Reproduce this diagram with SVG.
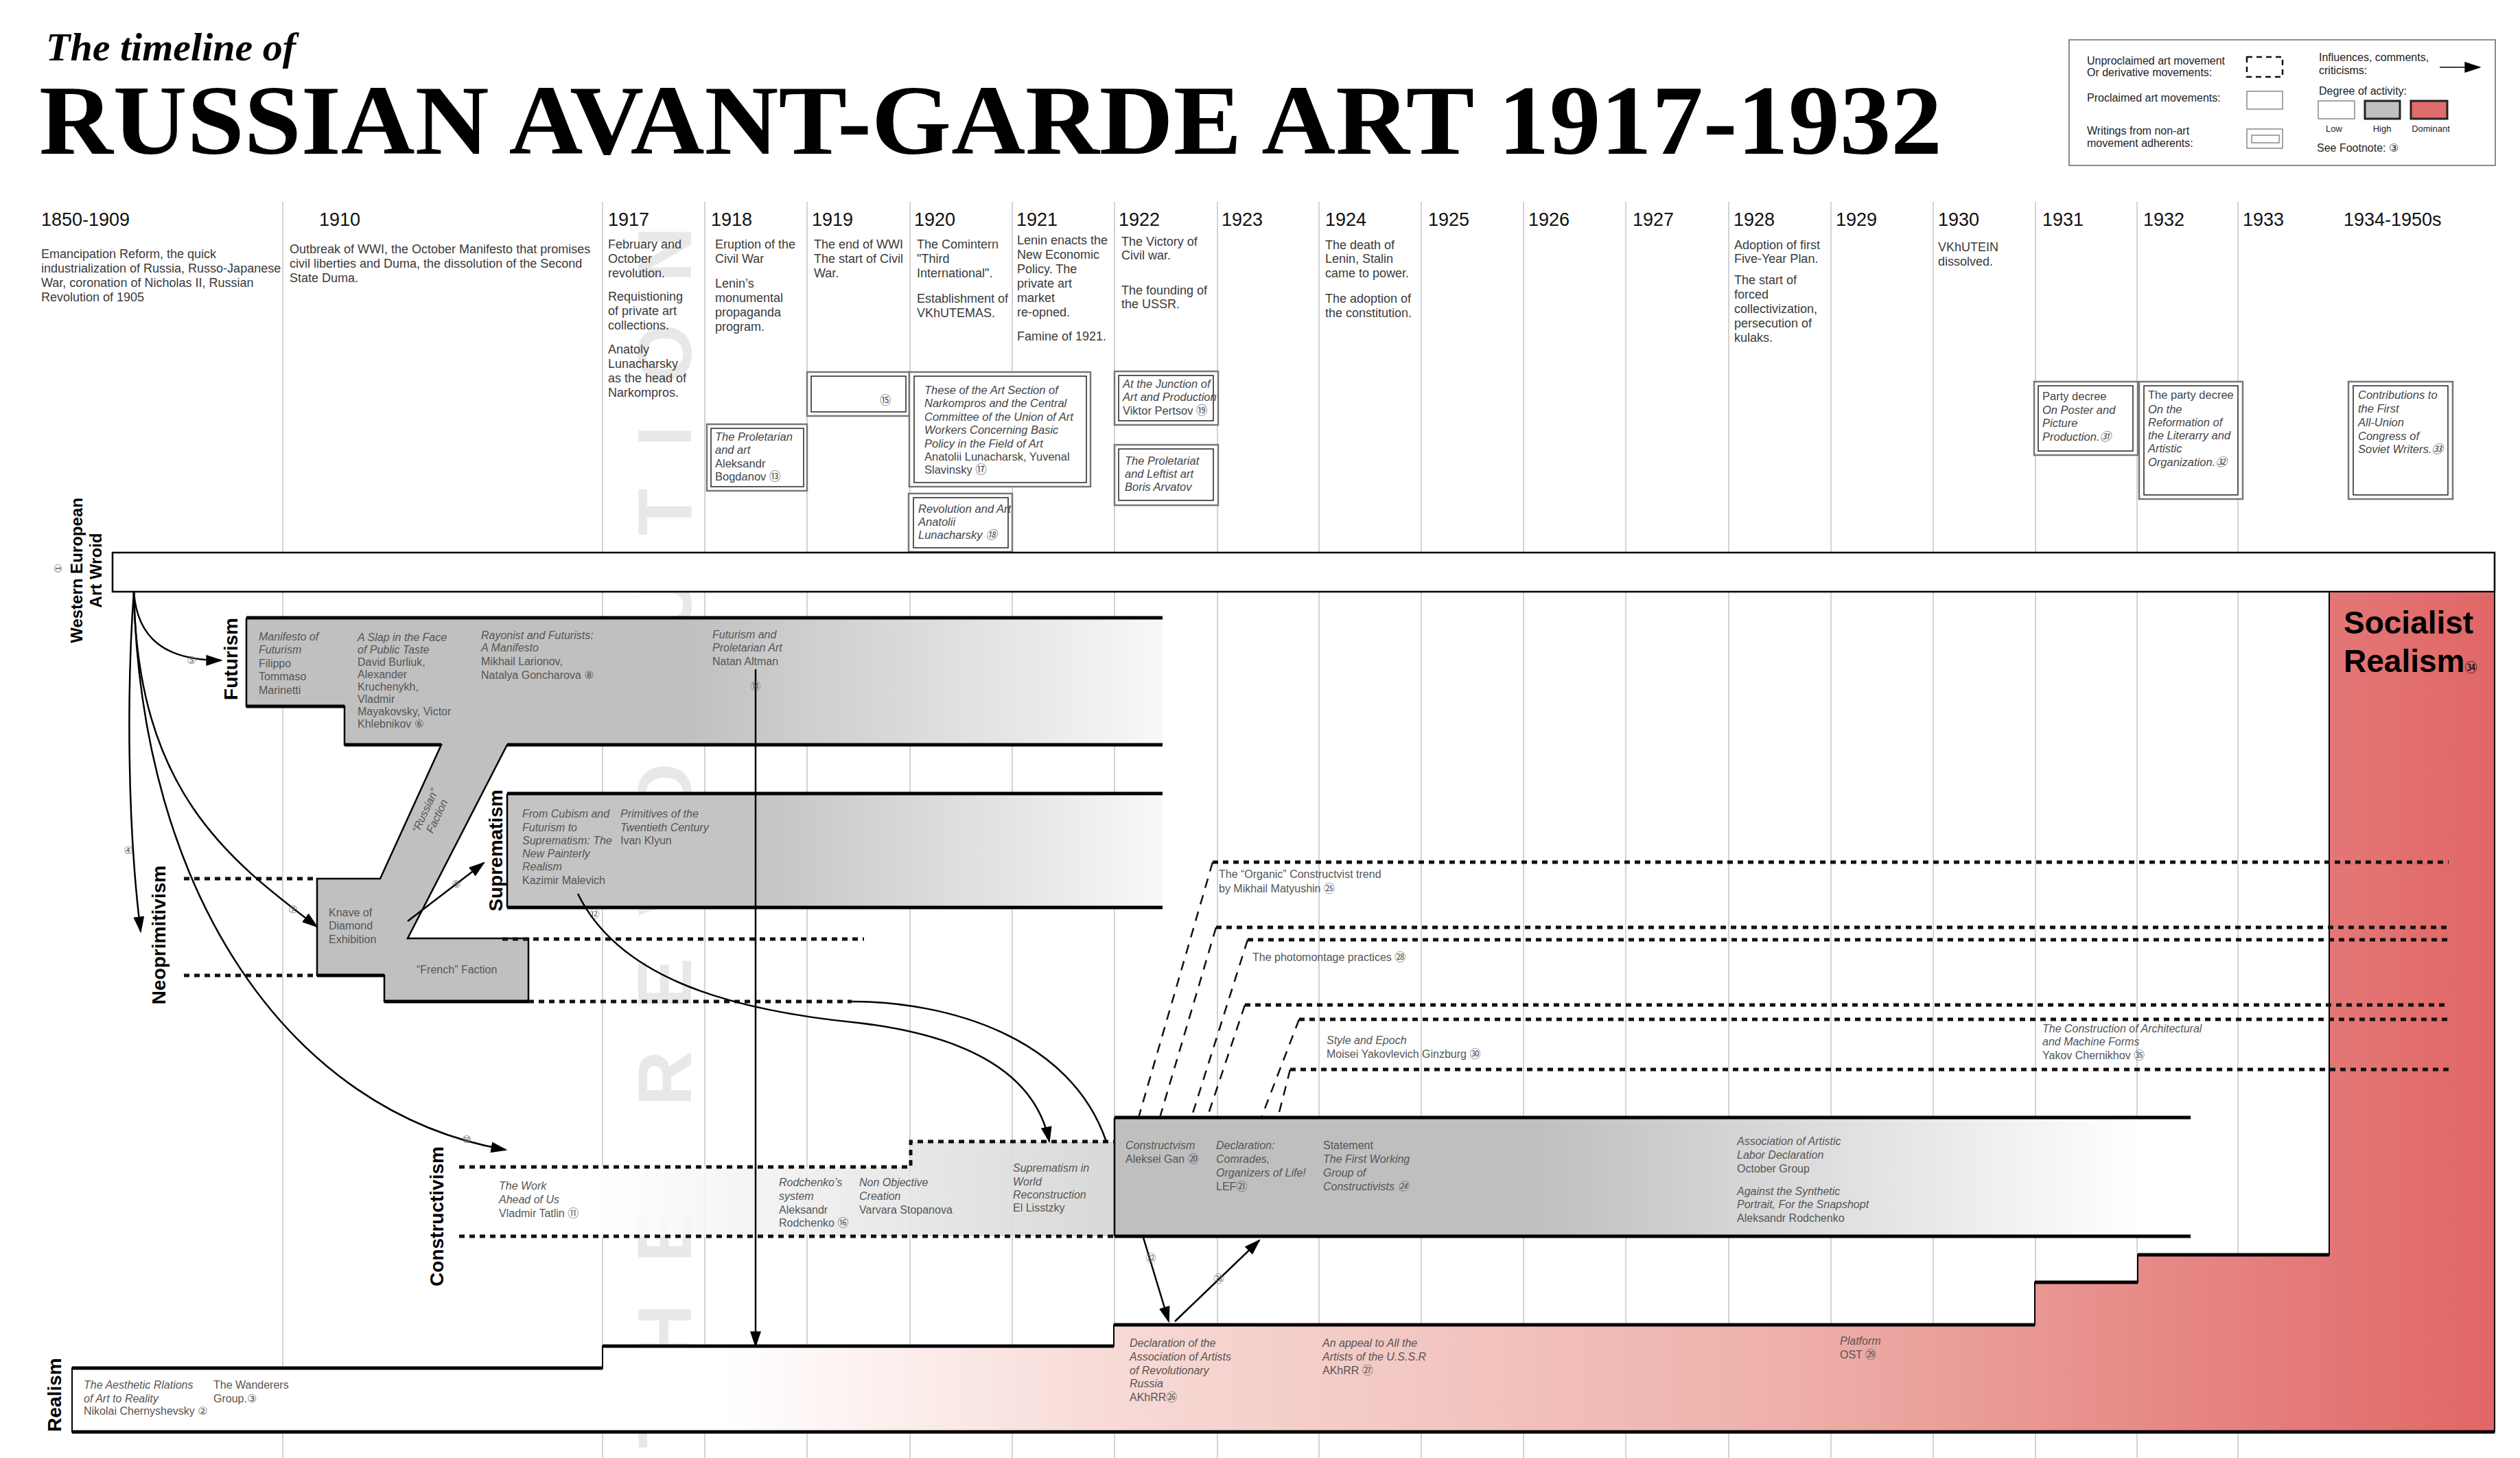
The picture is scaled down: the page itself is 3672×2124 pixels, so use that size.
<svg xmlns="http://www.w3.org/2000/svg" width="3672" height="2124" viewBox="0 0 3672 2124">
<style>
text{font-family:"Liberation Sans","DejaVu Sans","Noto Sans CJK JP",sans-serif}
.yr{font-size:27px;fill:#111}
.ds{font-size:18px;fill:#3a3a3a}
.bx{font-size:16.5px;fill:#444}
.tx{font-size:16px;fill:#555}
.lg{font-size:16px;fill:#222}
.lbl{font-size:28px;font-weight:bold;fill:#000}
.it{font-style:italic}
.grid{stroke:#c4c4c4;stroke-width:1.5}
.out{fill:#fff;stroke:#777;stroke-width:2.5}
.inn{fill:none;stroke:#222;stroke-width:1.5}
.dot{fill:none;stroke:#111;stroke-width:5;stroke-dasharray:8 7}
.dash{fill:none;stroke:#111;stroke-width:2.5;stroke-dasharray:14 11}
.edge{fill:none;stroke:#000;stroke-width:2.5}
.thick{fill:none;stroke:#000;stroke-width:5}
.con{fill:none;stroke:#000;stroke-width:2.5}
.num{font-size:15px;fill:#666}
</style>
<defs>
<marker id="arr" viewBox="0 0 10 10" refX="9" refY="5" markerWidth="24" markerHeight="16" markerUnits="userSpaceOnUse" orient="auto" preserveAspectRatio="none"><path d="M0,0 L10,5 L0,10 z" fill="#000"/></marker>
<linearGradient id="gFut" gradientUnits="userSpaceOnUse" x1="1000" y1="0" x2="1694" y2="0"><stop offset="0" stop-color="#c0c0c0"/><stop offset="1" stop-color="#f8f8f8"/></linearGradient>
<linearGradient id="gSup" gradientUnits="userSpaceOnUse" x1="1101" y1="0" x2="1694" y2="0"><stop offset="0" stop-color="#c4c4c4"/><stop offset="1" stop-color="#f8f8f8"/></linearGradient>
<linearGradient id="gCon" gradientUnits="userSpaceOnUse" x1="2230" y1="0" x2="3120" y2="0"><stop offset="0" stop-color="#bfbfbf"/><stop offset="1" stop-color="#ffffff"/></linearGradient>
<linearGradient id="gConU" gradientUnits="userSpaceOnUse" x1="880" y1="0" x2="1625" y2="0"><stop offset="0" stop-color="#ffffff"/><stop offset="1" stop-color="#d4d4d4"/></linearGradient>
<linearGradient id="gReal" gradientUnits="userSpaceOnUse" x1="1050" y1="0" x2="3635" y2="0"><stop offset="0" stop-color="#ffffff"/><stop offset="0.22" stop-color="#f7dad6"/><stop offset="0.6" stop-color="#eeb0aa"/><stop offset="1" stop-color="#e06666"/></linearGradient>
</defs>

<rect width="3672" height="2124" fill="#fff"/>

<!-- watermark -->
<text transform="translate(1007,2110) rotate(-90)" font-size="112" font-weight="bold" fill="#e8e8e8" textLength="1780" lengthAdjust="spacing">THE REVOLUTION</text>

<!-- grid -->
<g id="grid">
<line class="grid" x1="412" y1="294" x2="412" y2="2124"/>
<line class="grid" x1="878" y1="294" x2="878" y2="2124"/>
<line class="grid" x1="1027" y1="294" x2="1027" y2="2124"/>
<line class="grid" x1="1176" y1="294" x2="1176" y2="2124"/>
<line class="grid" x1="1326" y1="294" x2="1326" y2="2124"/>
<line class="grid" x1="1475" y1="294" x2="1475" y2="2124"/>
<line class="grid" x1="1624" y1="294" x2="1624" y2="2124"/>
<line class="grid" x1="1774" y1="294" x2="1774" y2="2124"/>
<line class="grid" x1="1922" y1="294" x2="1922" y2="2124"/>
<line class="grid" x1="2071" y1="294" x2="2071" y2="2124"/>
<line class="grid" x1="2220" y1="294" x2="2220" y2="2124"/>
<line class="grid" x1="2369" y1="294" x2="2369" y2="2124"/>
<line class="grid" x1="2519" y1="294" x2="2519" y2="2124"/>
<line class="grid" x1="2668" y1="294" x2="2668" y2="2124"/>
<line class="grid" x1="2817" y1="294" x2="2817" y2="2124"/>
<line class="grid" x1="2966" y1="294" x2="2966" y2="2124"/>
<line class="grid" x1="3114" y1="294" x2="3114" y2="2124"/>
<line class="grid" x1="3261" y1="294" x2="3261" y2="2124"/>
</g>

<!-- title -->
<g id="title">
<text x="67" y="88" font-family="Liberation Serif" font-size="58" font-style="italic" font-weight="bold" fill="#000" style="font-family:'Liberation Serif',serif">The timeline of</text>
<text x="57" y="224" font-size="145" font-weight="bold" fill="#000" textLength="2773" lengthAdjust="spacingAndGlyphs" style="font-family:'Liberation Serif',serif">RUSSIAN AVANT-GARDE ART 1917-1932</text>
</g>

<!-- legend -->
<g id="legend">
<rect x="3015" y="58" width="621" height="183" fill="#fff" stroke="#666" stroke-width="1.5"/>
<text class="lg" x="3041" y="94">Unproclaimed art movement</text>
<text class="lg" x="3041" y="111">Or derivative movements:</text>
<rect x="3274" y="83" width="52" height="29" fill="none" stroke="#111" stroke-width="2.5" stroke-dasharray="8 6"/>
<text class="lg" x="3041" y="148">Proclaimed art movements:</text>
<rect x="3274" y="133" width="52" height="26" fill="none" stroke="#888" stroke-width="1.5"/>
<text class="lg" x="3041" y="196">Writings from non-art</text>
<text class="lg" x="3041" y="214">movement adherents:</text>
<rect x="3274" y="188" width="52" height="28" fill="none" stroke="#888" stroke-width="1.5"/>
<rect x="3281" y="197" width="40" height="11" fill="none" stroke="#888" stroke-width="1.5"/>
<text class="lg" x="3379" y="89">Influences, comments,</text>
<text class="lg" x="3379" y="108">criticisms:</text>
<line x1="3555" y1="98" x2="3613" y2="98" stroke="#000" stroke-width="1.5" marker-end="url(#arr)"/>
<text class="lg" x="3379" y="138">Degree of activity:</text>
<rect x="3378" y="147" width="53" height="26" fill="#fff" stroke="#888" stroke-width="1.5"/>
<rect x="3446" y="147" width="51" height="26" fill="#c0c0c0" stroke="#222" stroke-width="3"/>
<rect x="3513" y="147" width="53" height="26" fill="#e06c6c" stroke="#222" stroke-width="3"/>
<text class="lg" x="3401" y="192" font-size="13" text-anchor="middle" style="font-size:13px">Low</text>
<text class="lg" x="3471" y="192" text-anchor="middle" style="font-size:13px">High</text>
<text class="lg" x="3542" y="192" text-anchor="middle" style="font-size:13px">Dominant</text>
<text class="lg" x="3376" y="221">See Footnote: ③</text>
</g>

<!-- years -->
<g id="years">
<text class="yr" x="60" y="329">1850-1909</text>
<text class="yr" x="465" y="329">1910</text>
<text class="yr" x="886" y="329">1917</text>
<text class="yr" x="1036" y="329">1918</text>
<text class="yr" x="1183" y="329">1919</text>
<text class="yr" x="1332" y="329">1920</text>
<text class="yr" x="1481" y="329">1921</text>
<text class="yr" x="1630" y="329">1922</text>
<text class="yr" x="1780" y="329">1923</text>
<text class="yr" x="1931" y="329">1924</text>
<text class="yr" x="2081" y="329">1925</text>
<text class="yr" x="2227" y="329">1926</text>
<text class="yr" x="2379" y="329">1927</text>
<text class="yr" x="2526" y="329">1928</text>
<text class="yr" x="2675" y="329">1929</text>
<text class="yr" x="2824" y="329">1930</text>
<text class="yr" x="2976" y="329">1931</text>
<text class="yr" x="3123" y="329">1932</text>
<text class="yr" x="3268" y="329">1933</text>
<text class="yr" x="3415" y="329">1934-1950s</text>
</g>

<!-- events -->
<g id="events">
<text class="ds"><tspan x="60" y="376">Emancipation Reform, the quick</tspan><tspan x="60" y="397">industrialization of Russia, Russo-Japanese</tspan><tspan x="60" y="418">War, coronation of Nicholas II, Russian</tspan><tspan x="60" y="439">Revolution of 1905</tspan></text>
<text class="ds"><tspan x="422" y="369">Outbreak of WWI, the October Manifesto that promises</tspan><tspan x="422" y="390">civil liberties and Duma, the dissolution of the Second</tspan><tspan x="422" y="411">State Duma.</tspan></text>
<text class="ds"><tspan x="886" y="362">February and</tspan><tspan x="886" y="383">October</tspan><tspan x="886" y="404">revolution.</tspan><tspan x="886" y="438">Requistioning</tspan><tspan x="886" y="459">of private art</tspan><tspan x="886" y="480">collections.</tspan><tspan x="886" y="515">Anatoly</tspan><tspan x="886" y="536">Lunacharsky</tspan><tspan x="886" y="557">as the head of</tspan><tspan x="886" y="578">Narkompros.</tspan></text>
<text class="ds"><tspan x="1042" y="362">Eruption of the</tspan><tspan x="1042" y="383">Civil War</tspan><tspan x="1042" y="419">Lenin’s</tspan><tspan x="1042" y="440">monumental</tspan><tspan x="1042" y="461">propaganda</tspan><tspan x="1042" y="482">program.</tspan></text>
<text class="ds"><tspan x="1186" y="362">The end of WWI</tspan><tspan x="1186" y="383">The start of Civil</tspan><tspan x="1186" y="404">War.</tspan></text>
<text class="ds"><tspan x="1336" y="362">The Comintern</tspan><tspan x="1336" y="383">"Third</tspan><tspan x="1336" y="404">International".</tspan><tspan x="1336" y="441">Establishment of</tspan><tspan x="1336" y="462">VKhUTEMAS.</tspan></text>
<text class="ds"><tspan x="1482" y="356">Lenin enacts the</tspan><tspan x="1482" y="377">New Economic</tspan><tspan x="1482" y="398">Policy. The</tspan><tspan x="1482" y="419">private art</tspan><tspan x="1482" y="440">market</tspan><tspan x="1482" y="461">re-opned.</tspan><tspan x="1482" y="496">Famine of 1921.</tspan></text>
<text class="ds"><tspan x="1634" y="358">The Victory of</tspan><tspan x="1634" y="378">Civil war.</tspan><tspan x="1634" y="429">The founding of</tspan><tspan x="1634" y="449">the USSR.</tspan></text>
<text class="ds"><tspan x="1931" y="363">The death of</tspan><tspan x="1931" y="383">Lenin, Stalin</tspan><tspan x="1931" y="404">came to power.</tspan><tspan x="1931" y="441">The adoption of</tspan><tspan x="1931" y="462">the constitution.</tspan></text>
<text class="ds"><tspan x="2527" y="363">Adoption of first</tspan><tspan x="2527" y="383">Five-Year Plan.</tspan><tspan x="2527" y="414">The start of</tspan><tspan x="2527" y="435">forced</tspan><tspan x="2527" y="456">collectivization,</tspan><tspan x="2527" y="477">persecution of</tspan><tspan x="2527" y="498">kulaks.</tspan></text>
<text class="ds"><tspan x="2824" y="366">VKhUTEIN</tspan><tspan x="2824" y="387">dissolved.</tspan></text>
</g>

<!-- writings -->
<g id="doc-bogdanov">
<rect class="out" x="1030" y="618" width="146" height="97"/><rect class="inn" x="1036" y="624" width="135" height="85"/>
<text class="bx"><tspan class="it" x="1042" y="642">The Proletarian</tspan><tspan class="it" x="1042" y="661">and art</tspan><tspan x="1042" y="681">Aleksandr</tspan><tspan x="1042" y="700">Bogdanov ⑬</tspan></text>
</g>
<g id="doc-15">
<rect class="out" x="1176" y="542" width="149" height="64"/><rect class="inn" x="1182" y="548" width="138" height="52"/>
<text class="bx" x="1282" y="589">⑮</text>
</g>
<g id="doc-theses">
<rect class="out" x="1325" y="542" width="264" height="167"/><rect class="inn" x="1332" y="548" width="251" height="155"/>
<text class="bx"><tspan class="it" x="1347" y="574">These of the Art Section of</tspan><tspan class="it" x="1347" y="593">Narkompros and the Central</tspan><tspan class="it" x="1347" y="613">Committee of the Union of Art</tspan><tspan class="it" x="1347" y="632">Workers Concerning Basic</tspan><tspan class="it" x="1347" y="652">Policy in the Field of Art</tspan><tspan x="1347" y="671">Anatolii Lunacharsk, Yuvenal</tspan><tspan x="1347" y="690">Slavinsky ⑰</tspan></text>
</g>
<g id="doc-revolution-art">
<rect class="out" x="1324" y="719" width="151" height="85"/><rect class="inn" x="1331" y="725" width="138" height="73"/>
<text class="bx it"><tspan x="1338" y="747">Revolution and Art</tspan><tspan x="1338" y="766">Anatolii</tspan><tspan x="1338" y="785">Lunacharsky ⑱</tspan></text>
</g>
<g id="doc-pertsov">
<rect class="out" x="1624" y="541" width="151" height="78"/><rect class="inn" x="1630" y="547" width="138" height="66"/>
<text class="bx"><tspan class="it" x="1636" y="565">At the Junction of</tspan><tspan class="it" x="1636" y="584">Art and Production</tspan><tspan x="1636" y="604">Viktor Pertsov ⑲</tspan></text>
</g>
<g id="doc-arvatov">
<rect class="out" x="1624" y="648" width="151" height="88"/><rect class="inn" x="1630" y="654" width="138" height="75"/>
<text class="bx it"><tspan x="1639" y="677">The Proletariat</tspan><tspan x="1639" y="696">and Leftist art</tspan><tspan x="1639" y="715">Boris Arvatov</tspan></text>
</g>
<g id="doc-poster">
<rect class="out" x="2964" y="556" width="151" height="107"/><rect class="inn" x="2970" y="562" width="138" height="95"/>
<text class="bx"><tspan x="2976" y="583">Party decree</tspan><tspan class="it" x="2976" y="603">On Poster and</tspan><tspan class="it" x="2976" y="622">Picture</tspan><tspan class="it" x="2976" y="642">Production.㉛</tspan></text>
</g>
<g id="doc-reformation">
<rect class="out" x="3117" y="556" width="151" height="171"/><rect class="inn" x="3124" y="562" width="137" height="159"/>
<text class="bx"><tspan x="3130" y="581">The party decree</tspan><tspan class="it" x="3130" y="602">On the</tspan><tspan class="it" x="3130" y="621">Reformation of</tspan><tspan class="it" x="3130" y="640">the Literarry and</tspan><tspan class="it" x="3130" y="659">Artistic</tspan><tspan class="it" x="3130" y="679">Organization.㉜</tspan></text>
</g>
<g id="doc-congress">
<rect class="out" x="3422" y="556" width="152" height="171"/><rect class="inn" x="3429" y="562" width="138" height="159"/>
<text class="bx it"><tspan x="3436" y="581">Contributions to</tspan><tspan x="3436" y="601">the First</tspan><tspan x="3436" y="621">All-Union</tspan><tspan x="3436" y="641">Congress of</tspan><tspan x="3436" y="660">Soviet Writers.㉝</tspan></text>
</g>

<!-- Western European Art World -->
<g id="western">
<rect x="164" y="805" width="3471" height="57" fill="#fff" stroke="#000" stroke-width="2.5"/>
<text class="lbl" transform="translate(120,831) rotate(-90)" text-anchor="middle" style="font-size:24px">Western European</text>
<text class="lbl" transform="translate(148,831) rotate(-90)" text-anchor="middle" style="font-size:24px">Art Wroid</text>
<text class="num" transform="translate(90,828) rotate(-90)" text-anchor="middle">①</text>
</g>

<!-- Realism + Socialist Realism -->
<g id="realism">
<polygon points="105,1993 878,1993 878,1961 1623,1961 1623,1930 2965,1930 2965,1868 3115,1868 3115,1828 3394,1828 3394,862 3635,862 3635,2086 105,2086" fill="url(#gReal)" stroke="#000" stroke-width="2"/>
<path class="thick" d="M105,1993H878M878,1961H1623M1623,1930H2965M2965,1868H3115M3115,1828H3394M105,2086H3635"/>
<text class="lbl" transform="translate(89,2032) rotate(-90)" text-anchor="middle">Realism</text>
<text class="tx"><tspan class="it" x="122" y="2023">The Aesthetic Rlations</tspan><tspan class="it" x="122" y="2043">of Art to Reality</tspan><tspan x="122" y="2061">Nikolai Chernyshevsky ②</tspan></text>
<text class="tx"><tspan x="311" y="2023">The Wanderers</tspan><tspan x="311" y="2043">Group.③</tspan></text>
<text class="tx"><tspan class="it" x="1646" y="1962">Declaration of the</tspan><tspan class="it" x="1646" y="1982">Association of Artists</tspan><tspan class="it" x="1646" y="2002">of Revolutionary</tspan><tspan class="it" x="1646" y="2021">Russia</tspan><tspan x="1646" y="2041">AKhRR㉖</tspan></text>
<text class="tx"><tspan class="it" x="1927" y="1962">An appeal to All the</tspan><tspan class="it" x="1927" y="1982">Artists of the U.S.S.R</tspan><tspan x="1927" y="2002">AKhRR ㉗</tspan></text>
<text class="tx"><tspan class="it" x="2681" y="1959">Platform</tspan><tspan x="2681" y="1979">OST ㉙</tspan></text>
</g>
<g id="socialist-realism">
<text x="3415" y="923" font-size="46" font-weight="bold" fill="#000">Socialist</text>
<text x="3415" y="979" font-size="46" font-weight="bold" fill="#000">Realism<tspan font-size="18" font-weight="normal">㉞</tspan></text>
</g>

<!-- Futurism / Neoprimitivism / Knave of Diamonds -->
<g id="futurism">
<polygon points="359,900 1694,900 1694,1085 739,1085 594,1367 770,1367 770,1459 560,1459 560,1421 462,1421 462,1280 554,1280 643,1085 502,1085 502,1029 359,1029" fill="url(#gFut)"/>
<path class="edge" d="M1694,1085 H739 L594,1367 H770 V1459 H560 V1421 H462 V1280 H554 L643,1085 H502 V1029 H359 V900"/>
<path class="thick" d="M359,900 H1694 M1694,1085 H739 M643,1085 H502 M502,1029 H359 M770,1459 H560 M560,1421 H462"/>
<text class="lbl" transform="translate(346,960) rotate(-90)" text-anchor="middle">Futurism</text>
<text class="tx"><tspan class="it" x="377" y="933">Manifesto of</tspan><tspan class="it" x="377" y="952">Futurism</tspan><tspan x="377" y="972">Filippo</tspan><tspan x="377" y="991">Tommaso</tspan><tspan x="377" y="1011">Marinetti</tspan></text>
<text class="tx"><tspan class="it" x="521" y="934">A Slap in the Face</tspan><tspan class="it" x="521" y="952">of Public Taste</tspan><tspan x="521" y="970">David Burliuk,</tspan><tspan x="521" y="988">Alexander</tspan><tspan x="521" y="1006">Kruchenykh,</tspan><tspan x="521" y="1024">Vladmir</tspan><tspan x="521" y="1042">Mayakovsky, Victor</tspan><tspan x="521" y="1060">Khlebnikov ⑥</tspan></text>
<text class="tx"><tspan class="it" x="701" y="931">Rayonist and Futurists:</tspan><tspan class="it" x="701" y="949">A Manifesto</tspan><tspan x="701" y="969">Mikhail Larionov,</tspan><tspan x="701" y="989">Natalya Goncharova ⑧</tspan></text>
<text class="tx"><tspan class="it" x="1038" y="930">Futurism and</tspan><tspan class="it" x="1038" y="949">Proletarian Art</tspan><tspan x="1038" y="969">Natan Altman</tspan></text>
<text class="tx it" transform="translate(628,1185) rotate(-65)" text-anchor="middle"><tspan x="0" y="-4">“Russian”</tspan><tspan x="0" y="15">Faction</tspan></text>
<text class="tx"><tspan x="479" y="1335">Knave of</tspan><tspan x="479" y="1354">Diamond</tspan><tspan x="479" y="1374">Exhibition</tspan></text>
<text class="tx" x="607" y="1418">“French” Faction</text>
</g>
<g id="neoprimitivism">
<text class="lbl" transform="translate(241,1362) rotate(-90)" text-anchor="middle">Neoprimitivism</text>
</g>

<!-- Suprematism -->
<g id="suprematism">
<rect x="739" y="1156" width="955" height="166" fill="url(#gSup)"/>
<path class="edge" d="M739,1156 V1322"/>
<path class="thick" d="M739,1156 H1694 M739,1322 H1694"/>
<text class="lbl" transform="translate(732,1239) rotate(-90)" text-anchor="middle">Suprematism</text>
<text class="tx"><tspan class="it" x="761" y="1191">From Cubism and</tspan><tspan class="it" x="761" y="1211">Futurism to</tspan><tspan class="it" x="761" y="1230">Suprematism: The</tspan><tspan class="it" x="761" y="1249">New Painterly</tspan><tspan class="it" x="761" y="1268">Realism</tspan><tspan x="761" y="1288">Kazimir Malevich</tspan></text>
<text class="tx"><tspan class="it" x="904" y="1191">Primitives of the</tspan><tspan class="it" x="904" y="1211">Twentieth Century</tspan><tspan x="904" y="1230">Ivan Klyun</tspan></text>
</g>

<!-- Constructivism -->
<g id="constructivism-early">
<polygon points="669,1700 1327,1700 1327,1663 1625,1663 1625,1801 669,1801" fill="url(#gConU)" fill-opacity="0.9"/>
<path class="dot" d="M669,1700 H1327 V1663 H1625 M669,1801 H1625"/>
<text class="lbl" transform="translate(646,1772) rotate(-90)" text-anchor="middle">Constructivism</text>
<text class="tx"><tspan class="it" x="727" y="1733">The Work</tspan><tspan class="it" x="727" y="1753">Ahead of Us</tspan><tspan x="727" y="1773">Vladmir Tatlin ⑪</tspan></text>
<text class="tx"><tspan class="it" x="1135" y="1728">Rodchenko’s</tspan><tspan class="it" x="1135" y="1748">system</tspan><tspan x="1135" y="1768">Aleksandr</tspan><tspan x="1135" y="1787">Rodchenko ⑯</tspan></text>
<text class="tx"><tspan class="it" x="1252" y="1728">Non Objective</tspan><tspan class="it" x="1252" y="1748">Creation</tspan><tspan x="1252" y="1768">Varvara Stopanova</tspan></text>
<text class="tx"><tspan class="it" x="1476" y="1707">Suprematism in</tspan><tspan class="it" x="1476" y="1727">World</tspan><tspan class="it" x="1476" y="1746">Reconstruction</tspan><tspan x="1476" y="1765">El Lisstzky</tspan></text>
</g>
<g id="constructivism">
<rect x="1624" y="1628" width="1568" height="173" fill="url(#gCon)"/>
<path class="edge" d="M1624,1628 V1801"/>
<path class="thick" d="M1624,1628 H3192 M1624,1801 H3192"/>
<text class="tx"><tspan class="it" x="1640" y="1674">Constructvism</tspan><tspan x="1640" y="1694">Aleksei Gan ⑳</tspan></text>
<text class="tx"><tspan class="it" x="1772" y="1674">Declaration:</tspan><tspan class="it" x="1772" y="1694">Comrades,</tspan><tspan class="it" x="1772" y="1714">Organizers of Life!</tspan><tspan x="1772" y="1734">LEF㉑</tspan></text>
<text class="tx"><tspan x="1928" y="1674">Statement</tspan><tspan class="it" x="1928" y="1694">The First Working</tspan><tspan class="it" x="1928" y="1714">Group of</tspan><tspan class="it" x="1928" y="1734">Constructivists ㉔</tspan></text>
<text class="tx"><tspan class="it" x="2531" y="1668">Association of Artistic</tspan><tspan class="it" x="2531" y="1688">Labor Declaration</tspan><tspan x="2531" y="1708">October Group</tspan><tspan class="it" x="2531" y="1741">Against the Synthetic</tspan><tspan class="it" x="2531" y="1760">Portrait, For the Snapshopt</tspan><tspan x="2531" y="1780">Aleksandr Rodchenko</tspan></text>
</g>

<!-- derivative constructivist trends -->
<g id="trend-organic">
<path class="dot" d="M1767,1256 H3568 M1772,1351 H3568"/>
<path class="dash" d="M1767,1256 L1659,1628 M1772,1351 L1690,1628"/>
<text class="tx"><tspan x="1776" y="1279">The “Organic” Constructvist trend</tspan><tspan x="1776" y="1300">by Mikhail Matyushin ㉕</tspan></text>
</g>
<g id="trend-photomontage">
<path class="dot" d="M1818,1369 H3568 M1814,1464 H3568"/>
<path class="dash" d="M1818,1369 L1736,1628 M1814,1464 L1759,1628"/>
<text class="tx" x="1825" y="1400">The photomontage practices ㉘</text>
</g>
<g id="trend-architecture">
<path class="dot" d="M1893,1485 H3568 M1880,1558 H3568"/>
<path class="dash" d="M1893,1485 L1838,1628 M1880,1558 L1862,1628"/>
<text class="tx"><tspan class="it" x="1933" y="1521">Style and Epoch</tspan><tspan x="1933" y="1541">Moisei Yakovlevich Ginzburg ㉚</tspan></text>
<text class="tx"><tspan class="it" x="2976" y="1504">The Construction of Architectural</tspan><tspan class="it" x="2976" y="1523">and Machine Forms</tspan><tspan x="2976" y="1543">Yakov Chernikhov ㉟</tspan></text>
</g>

<!-- connectors -->
<g id="connectors">
<path class="dot" d="M268,1280 H462 M268,1421 H462 M732,1368 H1259 M770,1459 H1241"/>
<path class="con" d="M195,862 C200,930 240,962 322,962" marker-end="url(#arr)"/>
<path class="con" d="M195,862 C185,1000 185,1200 205,1357" marker-end="url(#arr)"/>
<path class="con" d="M195,862 C200,1150 330,1250 462,1350" marker-end="url(#arr)"/>
<path class="con" d="M195,862 C205,1300 420,1620 737,1675" marker-end="url(#arr)"/>
<path class="con" d="M594,1342 L705,1257" marker-end="url(#arr)"/>
<path class="con" d="M842,1302 C900,1420 1050,1470 1250,1490 C1420,1510 1510,1570 1529,1663" marker-end="url(#arr)"/>
<path class="con" d="M1241,1459 C1380,1459 1560,1510 1612,1663"/>
<path class="con" d="M1101,975 V1961" marker-end="url(#arr)"/>
<path class="con" d="M1666,1803 L1703,1925" marker-end="url(#arr)"/>
<path class="con" d="M1712,1925 L1835,1807" marker-end="url(#arr)"/>
<g class="num" text-anchor="middle">
<text x="279" y="967">⑤</text>
<text x="187" y="1244">④</text>
<text x="427" y="1330">⑦</text>
<text x="680" y="1665">⑩</text>
<text x="665" y="1293">⑨</text>
<text x="866" y="1337">⑫</text>
<text x="1101" y="1005">⑭</text>
<text x="1677" y="1838">㉒</text>
<text x="1776" y="1868">㉓</text>
</g>
</g>
</svg>
